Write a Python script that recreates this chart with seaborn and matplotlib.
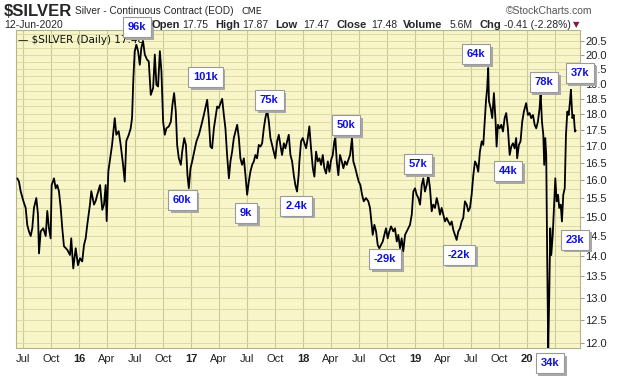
import numpy as np
import pandas as pd
import matplotlib
matplotlib.use("Agg")
import matplotlib.pyplot as plt
import matplotlib.dates as mdates
import matplotlib.ticker as mticker
import matplotlib.patheffects as pe
import seaborn as sns

# daily close (decimal year, price)
dates_yr = [
    2015.449, 2015.464, 2015.479, 2015.503, 2015.524, 2015.538, 2015.553, 2015.569, 2015.583, 2015.598,
    2015.619, 2015.634, 2015.643, 2015.658, 2015.681, 2015.703, 2015.717, 2015.732, 2015.747, 2015.756,
    2015.777, 2015.792, 2015.806, 2015.821, 2015.837, 2015.851, 2015.866, 2015.896, 2015.920, 2015.931,
    2015.949, 2015.971, 2015.991, 2016.009, 2016.029, 2016.045, 2016.060, 2016.074, 2016.098, 2016.110,
    2016.134, 2016.149, 2016.163, 2016.188, 2016.208, 2016.223, 2016.238, 2016.247, 2016.262, 2016.295,
    2016.319, 2016.333, 2016.354, 2016.372, 2016.393, 2016.408, 2016.422, 2016.444, 2016.461, 2016.473,
    2016.485, 2016.497, 2016.512, 2016.527, 2016.542, 2016.556, 2016.571, 2016.587, 2016.607, 2016.622,
    2016.640, 2016.661, 2016.676, 2016.690, 2016.705, 2016.721, 2016.735, 2016.750, 2016.765, 2016.779,
    2016.801, 2016.819, 2016.833, 2016.848, 2016.863, 2016.875, 2016.890, 2016.908, 2016.920, 2016.938,
    2016.953, 2016.967, 2016.979, 2016.994, 2017.009, 2017.027, 2017.047, 2017.069, 2017.092, 2017.113,
    2017.143, 2017.157, 2017.172, 2017.187, 2017.203, 2017.217, 2017.232, 2017.247, 2017.262, 2017.277,
    2017.292, 2017.306, 2017.321, 2017.337, 2017.351, 2017.366, 2017.381, 2017.396, 2017.411, 2017.426,
    2017.440, 2017.455, 2017.471, 2017.485, 2017.500, 2017.515, 2017.529, 2017.545, 2017.560, 2017.574,
    2017.589, 2017.604, 2017.619, 2017.634, 2017.649, 2017.663, 2017.679, 2017.694, 2017.708, 2017.723,
    2017.738, 2017.752, 2017.768, 2017.783, 2017.797, 2017.812, 2017.828, 2017.842, 2017.857, 2017.872,
    2017.887, 2017.902, 2017.917, 2017.931, 2017.946, 2017.960, 2017.967, 2017.982, 2017.997, 2018.012,
    2018.027, 2018.042, 2018.056, 2018.071, 2018.087, 2018.101, 2018.116, 2018.131, 2018.146, 2018.161,
    2018.176, 2018.190, 2018.205, 2018.221, 2018.235, 2018.250, 2018.265, 2018.279, 2018.288, 2018.301,
    2018.315, 2018.330, 2018.346, 2018.360, 2018.375, 2018.390, 2018.404, 2018.420, 2018.437, 2018.449,
    2018.467, 2018.482, 2018.497, 2018.512, 2018.527, 2018.542, 2018.562, 2018.583, 2018.598, 2018.613,
    2018.622, 2018.637, 2018.652, 2018.667, 2018.681, 2018.696, 2018.712, 2018.726, 2018.741, 2018.756,
    2018.771, 2018.786, 2018.806, 2018.821, 2018.837, 2018.851, 2018.866, 2018.881, 2018.895, 2018.911,
    2018.926, 2018.940, 2018.955, 2018.971, 2018.985, 2019.000, 2019.015, 2019.030, 2019.045, 2019.060,
    2019.074, 2019.089, 2019.104, 2019.119, 2019.134, 2019.149, 2019.163, 2019.179, 2019.194, 2019.208,
    2019.223, 2019.238, 2019.253, 2019.268, 2019.283, 2019.297, 2019.313, 2019.328, 2019.342, 2019.357,
    2019.372, 2019.387, 2019.402, 2019.417, 2019.431, 2019.446, 2019.462, 2019.476, 2019.491, 2019.506,
    2019.521, 2019.536, 2019.551, 2019.565, 2019.580, 2019.596, 2019.610, 2019.625, 2019.634, 2019.645,
    2019.654, 2019.661, 2019.676, 2019.690, 2019.705, 2019.720, 2019.729, 2019.741, 2019.756, 2019.771,
    2019.786, 2019.801, 2019.815, 2019.830, 2019.846, 2019.860, 2019.875, 2019.890, 2019.904, 2019.913,
    2019.928, 2019.943, 2019.958, 2019.973, 2019.993, 2020.009, 2020.024, 2020.038, 2020.054, 2020.069,
    2020.083, 2020.098, 2020.113, 2020.122, 2020.134, 2020.146, 2020.154, 2020.163, 2020.172, 2020.181,
    2020.190, 2020.199, 2020.208, 2020.217, 2020.230, 2020.241, 2020.253, 2020.265, 2020.277, 2020.288,
    2020.301, 2020.312, 2020.324, 2020.337, 2020.348, 2020.360, 2020.372, 2020.384, 2020.392, 2020.405,
    2020.417, 2020.428, 2020.435,
]
price = [
    16.06, 15.97, 15.70, 15.43, 15.24, 14.79, 14.62, 14.50, 14.70, 15.24,
    15.51, 15.06, 14.06, 14.62, 14.70, 14.50, 15.16, 14.70, 14.44, 15.87,
    16.06, 15.78, 15.87, 15.70, 15.24, 14.70, 14.24, 14.15, 14.02, 14.44,
    13.69, 14.19, 13.77, 13.94, 13.86, 14.27, 14.44, 14.79, 15.33, 15.70,
    15.33, 15.43, 15.60, 15.87, 15.19, 15.33, 15.87, 14.89, 16.26, 17.04,
    17.87, 17.35, 17.46, 17.04, 16.45, 15.97, 17.16, 17.35, 17.55, 17.87,
    19.18, 20.12, 20.35, 20.12, 19.64, 20.24, 20.48, 20.00, 19.82, 19.76,
    18.62, 18.85, 20.00, 18.96, 18.90, 20.12, 19.41, 17.76, 17.35, 17.55,
    17.61, 17.76, 18.30, 18.68, 18.08, 17.04, 16.64, 16.45, 16.84, 17.25,
    17.04, 16.15, 15.78, 16.35, 16.55, 16.84, 17.15, 17.35, 17.66, 17.97,
    18.46, 17.87, 16.99, 16.94, 17.55, 17.87, 18.24, 18.19, 18.35, 18.49,
    17.97, 17.55, 16.74, 16.06, 16.55, 16.84, 17.25, 17.45, 17.66, 17.25,
    16.64, 16.45, 16.64, 16.15, 15.60, 15.97, 16.25, 16.45, 16.55, 16.74,
    16.64, 17.04, 16.99, 17.09, 17.55, 17.87, 18.13, 17.76, 17.25, 17.04,
    16.84, 16.64, 17.15, 17.35, 17.04, 16.74, 17.09, 16.94, 17.15, 17.35,
    16.74, 16.55, 16.15, 15.87, 15.69, 16.15, 16.55, 17.15, 17.25, 17.09,
    16.94, 17.25, 17.61, 16.94, 16.35, 16.11, 16.84, 16.55, 16.64, 16.45,
    16.74, 16.35, 16.20, 16.55, 16.25, 16.59, 16.74, 17.15, 17.25, 16.55,
    16.15, 16.74, 16.55, 16.35, 16.55, 16.45, 16.59, 16.74, 17.25, 16.55,
    16.35, 16.15, 15.97, 15.87, 15.60, 15.42, 15.51, 15.42, 15.24, 14.79,
    14.53, 14.79, 14.62, 14.27, 14.19, 14.27, 14.36, 14.53, 14.70, 14.44,
    14.62, 14.75, 14.62, 14.70, 14.36, 14.53, 14.19, 14.44, 14.11, 14.53,
    14.62, 14.70, 14.79, 15.06, 15.69, 15.78, 15.60, 15.51, 15.33, 15.87,
    16.06, 15.69, 15.87, 16.15, 15.78, 15.15, 15.33, 15.24, 15.51, 15.33,
    15.06, 15.24, 15.06, 14.88, 14.97, 14.88, 14.79, 14.88, 14.66, 14.53,
    14.40, 14.62, 14.70, 14.88, 14.97, 15.42, 15.33, 15.15, 15.24, 15.60,
    16.15, 16.55, 16.45, 16.25, 16.84, 17.15, 17.04, 17.87, 18.41, 18.85,
    19.53, 18.41, 18.19, 17.87, 18.68, 17.76, 16.99, 17.66, 17.55, 17.66,
    17.45, 17.87, 18.03, 17.55, 16.74, 16.99, 17.09, 16.94, 17.25, 16.64,
    17.04, 17.15, 17.76, 18.08, 18.35, 17.97, 18.03, 17.87, 17.97, 17.66,
    17.55, 17.76, 18.19, 18.68, 17.76, 17.35, 16.45, 17.25, 16.74, 13.86,
    11.88, 13.06, 14.70, 14.02, 14.53, 15.24, 16.06, 15.42, 15.60, 15.24,
    15.33, 14.88, 15.60, 15.78, 17.35, 18.08, 17.97, 18.41, 18.79, 17.87,
    17.97, 17.45, 17.48,
]

# commitment-of-traders style labels and where they sit (decimal year, price)
note_text = ["96k", "101k", "75k", "50k", "60k", "9k", "2.4k", "-29k",
             "57k", "-22k", "64k", "44k", "78k", "37k", "23k", "34k"]
note_yr = [2016.518, 2017.125, 2017.697, 2018.384, 2016.920, 2017.491, 2017.938, 2018.732,
           2019.027, 2019.393, 2019.545, 2019.830, 2020.152, 2020.473, 2020.429, 2020.205]
note_px = [21.01, 19.22, 18.45, 17.65, 15.46, 15.11, 15.30, 13.91,
           16.47, 14.03, 20.02, 16.26, 19.05, 19.36, 14.41, 11.57]

y_ticks = np.arange(12.0, 20.51, 0.5)


def yr_to_date(v):
    y = int(v)
    a = pd.Timestamp(y, 1, 1)
    b = pd.Timestamp(y + 1, 1, 1)
    return a + (b - a) * (v - y)


df = pd.DataFrame({"date": [yr_to_date(v) for v in dates_yr], "close": price})

sns.set_style("white")
plt.rcParams["font.family"] = ["Liberation Sans", "DejaVu Sans"]

fig = plt.figure(figsize=(6.2, 3.76), dpi=100)
W, H = 620, 376
ax = fig.add_axes([16 / W, 1 - 348 / H, (580 - 16) / W, (348 - 30) / H])
ax.set_facecolor("#f8f6c9")

sns.lineplot(data=df, x="date", y="close", ax=ax, color="black", lw=1.3, zorder=3)

ax.set_yscale("log")
ax.set_ylim(11.89, 20.89)
ax.set_xlim(yr_to_date(2015.4375), yr_to_date(2020.473))
ax.yaxis.set_major_locator(mticker.FixedLocator(y_ticks))
ax.yaxis.set_major_formatter(mticker.FixedFormatter([f"{v:.1f}" for v in y_ticks]))
ax.yaxis.set_minor_locator(mticker.FixedLocator(y_ticks + 0.25))
ax.yaxis.set_minor_formatter(mticker.NullFormatter())
ax.yaxis.tick_right()
ax.tick_params(axis="y", which="major", length=3, width=0.6, color="#888888",
               labelsize=8, labelcolor="#222222", pad=1, right=True)
ax.tick_params(axis="y", which="minor", length=0)

qt = pd.date_range("2015-07-01", "2020-04-01", freq="QS")
ax.xaxis.set_major_locator(mticker.FixedLocator(mdates.date2num(qt)))
# the last quarter label sits under the 34k box in the original, so it stays blank
qlabels = [f"{d.year % 100:02d}" if d.month == 1 else d.strftime("%b") for d in qt]
qlabels[-1] = ""
ax.set_xticklabels(qlabels)
for lab, d in zip(ax.get_xticklabels(), qt):
    if d.month == 1:
        lab.set_fontweight("bold")
ax.tick_params(axis="x", length=0, labelsize=8, labelcolor="#222222", pad=4)

ax.grid(True, axis="y", which="both", color="#dcdba4", lw=0.7)
ax.grid(True, axis="x", which="major", color="#c9cb94", lw=0.8)
ax.set_axisbelow(True)
for s in ax.spines.values():
    s.set_color("#b4b48c")
    s.set_linewidth(0.8)
ax.set_xlabel("")
ax.set_ylabel("")

# legend line inside plot
ax.text(0.004, 0.985, "\u2014 $SILVER (Daily) 17.48", transform=ax.transAxes,
        ha="left", va="top", fontsize=7.5, family="DejaVu Sans", color="#111111")

# annotation boxes with a drop shadow
for t, yv, pv in zip(note_text, note_yr, note_px):
    xd = mdates.date2num(yr_to_date(yv))
    txt = ax.text(xd, pv, t, ha="center", va="center", fontsize=8, fontweight="bold",
                  color="#1010e0", zorder=6, clip_on=False,
                  bbox=dict(boxstyle="square,pad=0.45", fc="white", ec="#9a9a9a", lw=0.8))
    txt.get_bbox_patch().set_path_effects(
        [pe.SimplePatchShadow(offset=(2, -2), shadow_rgbFace="#a8a8a8", alpha=1.0), pe.Normal()])

# header
fig.text(4 / W, 1 - 11 / H, "$SILVER", fontsize=12, fontweight="bold", va="center", ha="left")
fig.text(75 / W, 1 - 11.5 / H, "Silver - Continuous Contract (EOD)", fontsize=7.3, va="center", ha="left")
fig.text(241 / W, 1 - 11.5 / H, "CME", fontsize=6.8, va="center", ha="left", family="DejaVu Sans")
fig.text(592 / W, 1 - 11 / H, "\u00a9StockCharts.com", fontsize=7.5, va="center", ha="right", color="#555555")
fig.text(4 / W, 1 - 25 / H, "12-Jun-2020", fontsize=7.5, va="center", ha="left")

parts = [("Open", True, 152), ("17.75", False, 182), ("High", True, 215), ("17.87", False, 242),
         ("Low", True, 275), ("17.47", False, 303), ("Close", True, 336), ("17.48", False, 371),
         ("Volume", True, 403), ("5.6M", False, 450), ("Chg", True, 480), ("-0.41 (-2.28%)", False, 504)]
for txt, bold, xp in parts:
    fig.text(xp / W, 1 - 25 / H, txt, fontsize=8 if bold else 7.5,
             fontweight="bold" if bold else "normal", va="center", ha="left")
fig.text(573 / W, 1 - 25 / H, "\u25bc", fontsize=6, va="center", ha="left", color="#8b1a3a",
         family="DejaVu Sans")

fig.savefig("out.png", dpi=100)
